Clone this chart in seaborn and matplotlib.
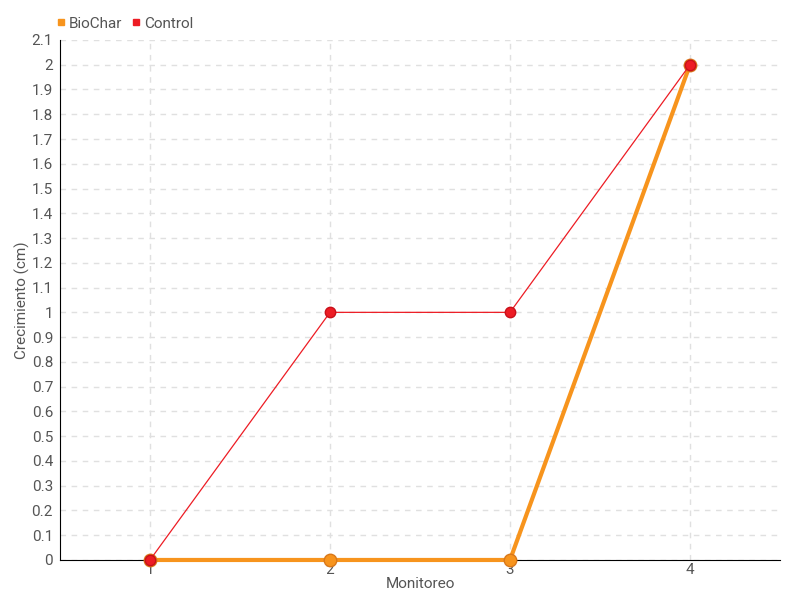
import numpy as np
import pandas as pd
import matplotlib
matplotlib.use("Agg")
import matplotlib.pyplot as plt
import seaborn as sns

monitoreo = [1, 2, 3, 4]
biochar = [0, 0, 0, 2]
control = [0, 1, 1, 2]
y_ticks = [round(0.1 * i, 1) for i in range(22)]

sns.set_style("white")
plt.rcParams["font.family"] = ["Roboto", "DejaVu Sans"]

df = pd.DataFrame({
    "Monitoreo": monitoreo * 2,
    "Crecimiento": biochar + control,
    "Serie": ["BioChar"] * 4 + ["Control"] * 4,
})

fig = plt.figure(figsize=(8, 6), dpi=100)
ax = fig.add_axes([0.075, 0.0667, 0.9, 0.8667])

c_bio = "#f7941d"
c_ctl = "#ed1c24"
txt = "#555555"

sns.lineplot(data=df[df.Serie == "BioChar"], x="Monitoreo", y="Crecimiento",
             color=c_bio, lw=3, marker="o", ms=9, mfc=c_bio, mec="#d9781a",
             mew=1, ax=ax, zorder=3, clip_on=False)
sns.lineplot(data=df[df.Serie == "Control"], x="Monitoreo", y="Crecimiento",
             color=c_ctl, lw=0.9, marker="o", ms=7.5, mfc=c_ctl, mec="#c8101a",
             mew=1, ax=ax, zorder=4, clip_on=False)

ax.set_xlim(0.5, 4.5)
ax.set_ylim(0, 2.1)
ax.set_xticks(monitoreo)
ax.set_yticks(y_ticks)
ax.set_yticklabels([("%g" % t) for t in y_ticks])
ax.tick_params(axis="both", colors=txt, labelsize=11, width=1)
ax.tick_params(axis="x", direction="inout", color="#bbbbbb", length=8, pad=-2)
ax.tick_params(axis="y", direction="inout", color="black", length=6, pad=2)
ax.grid(True, ls=(0, (4, 4)), color="#e0e0e0", lw=1)
for s in ["top", "right"]:
    ax.spines[s].set_visible(False)
ax.spines["left"].set_color("black")
ax.spines["bottom"].set_color("black")
ax.set_xlabel("Monitoreo", color=txt, fontsize=11, labelpad=0)
ax.set_ylabel("Crecimiento (cm)", color=txt, fontsize=11, labelpad=1)

handles = [plt.Line2D([], [], ls="", marker="s", ms=5, color=c_bio),
           plt.Line2D([], [], ls="", marker="s", ms=5, color=c_ctl)]
fig.legend(handles, ["BioChar", "Control"], loc="upper left",
           bbox_to_anchor=(0.052, 0.995), ncol=2, frameon=False, fontsize=11,
           handletextpad=0.1, columnspacing=0.5, handlelength=0.8,
           labelcolor=txt)

fig.savefig("out.png", dpi=100)
